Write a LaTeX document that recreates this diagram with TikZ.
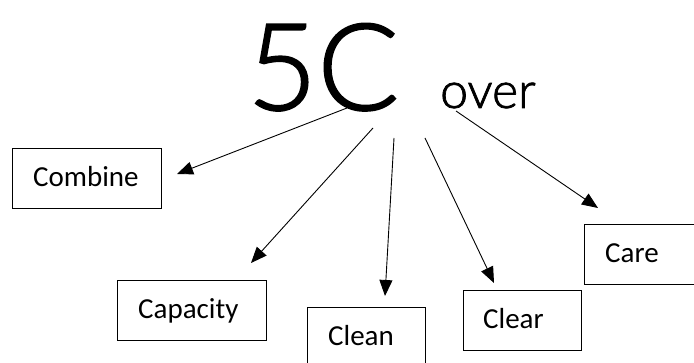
\documentclass[tikz,border=0pt]{standalone}
\usepackage{fontspec}
\setmainfont{Carlito}
\newfontfamily\lightfont[FakeBold=1.5]{Lato Light}
\usetikzlibrary{arrows.meta,calc}
\begin{document}
\begin{tikzpicture}[x=1pt,y=-1pt,
  box/.style={draw, line width=1.3pt, inner sep=0pt, anchor=north west},
  lbl/.style={inner sep=0pt, anchor=base west, font=\fontsize{29}{34}\selectfont},
  arr/.style={line width=0.9pt, -{Triangle[length=16pt,width=13pt]}}]
\useasboundingbox (0,0) rectangle (694,363);
\clip (0,0) rectangle (694,363);
\fill[white] (0,0) rectangle (694,363);
% title
\node[inner sep=0pt, anchor=base west, font=\lightfont\fontsize{121}{130}\selectfont] (title) at (247,110) {5C};
\node[inner sep=0pt, anchor=base west, font=\lightfont\fontsize{50}{58}\selectfont] (over) at (440,108) {over};
% boxes
\node[box, minimum width=149pt, minimum height=60pt] (combine) at (12,148) {};
\node[box, minimum width=149pt, minimum height=60pt] (capacity) at (117,280) {};
\node[box, minimum width=118pt, minimum height=80pt] (clean) at (307,307) {};
\node[box, minimum width=118pt, minimum height=60pt] (clear) at (463,290) {};
\node[box, minimum width=130pt, minimum height=60pt] (care) at (584,224) {};
% labels
\node[lbl] (tcombine) at ($(combine.north west)+(21,39)$) {Combine};
\node[lbl] (tcapacity) at ($(capacity.north west)+(21,39)$) {Capacity};
\node[lbl] (tclean) at ($(clean.north west)+(21,39)$) {Clean};
\node[lbl] (tclear) at ($(clear.north west)+(20,39)$) {Clear};
\node[lbl] (tcare) at ($(care.north west)+(21,39)$) {Care};
% arrow ends
\coordinate (s1) at (347,108); \coordinate (e1) at (177,174);
\coordinate (s2) at (373,128); \coordinate (e2) at (251,263);
\coordinate (s3) at (394,138); \coordinate (e3) at (385,296);
\coordinate (s4) at (425,138); \coordinate (e4) at (494,283);
\coordinate (s5) at (456,111); \coordinate (e5) at (598,208);
\draw[arr] (s1) -- (e1);
\draw[arr] (s2) -- (e2);
\draw[arr] (s3) -- (e3);
\draw[arr] (s4) -- (e4);
\draw[arr] (s5) -- (e5);
\end{tikzpicture}
\end{document}
